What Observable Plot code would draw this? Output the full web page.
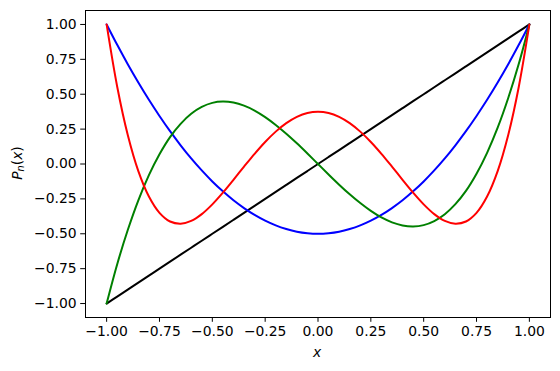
<!DOCTYPE html>
<html>
<head>
<meta charset="utf-8">
<script src="https://cdn.jsdelivr.net/npm/d3@7"></script>
<script src="https://cdn.jsdelivr.net/npm/@observablehq/plot@0.6"></script>
<style>
  html, body { margin: 0; padding: 0; background: #fff; }
  #chart { width: 560px; height: 371px; }
</style>
</head>
<body>
<div id="chart"></div>
<script>
// x sample positions
const xs = [-1.0, -0.95, -0.9, -0.85, -0.8, -0.75, -0.7, -0.65, -0.6, -0.55, -0.5,
            -0.45, -0.4, -0.35, -0.3, -0.25, -0.2, -0.15, -0.1, -0.05, 0.0,
             0.05, 0.1, 0.15, 0.2, 0.25, 0.3, 0.35, 0.4, 0.45, 0.5,
             0.55, 0.6, 0.65, 0.7, 0.75, 0.8, 0.85, 0.9, 0.95, 1.0];
// series values
const p1 = [-1.0, -0.95, -0.9, -0.85, -0.8, -0.75, -0.7, -0.65, -0.6, -0.55, -0.5,
            -0.45, -0.4, -0.35, -0.3, -0.25, -0.2, -0.15, -0.1, -0.05, 0.0,
             0.05, 0.1, 0.15, 0.2, 0.25, 0.3, 0.35, 0.4, 0.45, 0.5,
             0.55, 0.6, 0.65, 0.7, 0.75, 0.8, 0.85, 0.9, 0.95, 1.0];
const p2 = [1.0, 0.854, 0.715, 0.584, 0.46, 0.344, 0.235, 0.134, 0.04, -0.046, -0.125,
            -0.196, -0.26, -0.316, -0.365, -0.406, -0.44, -0.466, -0.485, -0.496, -0.5,
            -0.496, -0.485, -0.466, -0.44, -0.406, -0.365, -0.316, -0.26, -0.196, -0.125,
            -0.046, 0.04, 0.134, 0.235, 0.344, 0.46, 0.584, 0.715, 0.854, 1.0];
const p3 = [-1.0, -0.718, -0.473, -0.26, -0.08, 0.07, 0.193, 0.288, 0.36, 0.409, 0.438,
            0.447, 0.44, 0.418, 0.383, 0.336, 0.28, 0.217, 0.148, 0.075, 0.0,
            -0.075, -0.148, -0.217, -0.28, -0.336, -0.383, -0.418, -0.44, -0.447, -0.438,
            -0.409, -0.36, -0.288, -0.193, -0.07, 0.08, 0.26, 0.473, 0.718, 1.0];
const p4 = [1.0, 0.554, 0.208, -0.051, -0.233, -0.35, -0.412, -0.428, -0.408, -0.359, -0.289,
            -0.205, -0.113, -0.019, 0.073, 0.158, 0.232, 0.293, 0.338, 0.366, 0.375,
            0.366, 0.338, 0.293, 0.232, 0.158, 0.073, -0.019, -0.113, -0.205, -0.289,
            -0.359, -0.408, -0.428, -0.412, -0.35, -0.233, -0.051, 0.208, 0.554, 1.0];
const seriesNames = ["P1", "P2", "P3", "P4"];
const seriesColors = ["black", "blue", "green", "red"];
const tickValues = [-1.0, -0.75, -0.5, -0.25, 0.0, 0.25, 0.5, 0.75, 1.0];

const allSeries = [p1, p2, p3, p4];
const fmt = d3.format(".2f");

const lineMarks = allSeries.map((vals, i) =>
  Plot.line(xs.map((x, j) => ({x, y: vals[j], s: seriesNames[i]})), {
    x: "x", y: "y", stroke: seriesColors[i], strokeWidth: 2, curve: "catmull-rom"
  })
);

const chart = Plot.plot({
  width: 560,
  height: 371,
  marginLeft: 85,
  marginRight: 10,
  marginTop: 10,
  marginBottom: 54,
  style: { background: "white", overflow: "visible" },
  x: { domain: [-1.1, 1.1] },
  y: { domain: [-1.1, 1.1] },
  marks: [
    ...lineMarks,
    Plot.frame({ stroke: "black", strokeWidth: 1 }),
    Plot.axisX({ ticks: tickValues, tickFormat: fmt, tickSize: 4.8, tickPadding: 4, label: null }),
    Plot.axisY({ ticks: tickValues, tickFormat: fmt, tickSize: 4.8, tickPadding: 4, label: null })
  ]
});
document.getElementById("chart").appendChild(chart);

const svg = d3.select(chart);
svg.selectAll("text")
  .style("font-family", "'DejaVu Sans'")
  .style("font-size", "13.9px")
  .style("fill", "black");

// axis labels
const lbl = (sel) => sel.style("font-family", "'DejaVu Sans'").style("font-size", "13.9px").style("fill", "black");
lbl(svg.append("text")
  .attr("x", 317).attr("y", 353)
  .attr("text-anchor", "middle").attr("dominant-baseline", "middle")
  .attr("font-style", "italic").text("x"));
const yl = lbl(svg.append("text")
  .attr("transform", "translate(18,163) rotate(-90)")
  .attr("text-anchor", "middle").attr("dominant-baseline", "middle"));
yl.append("tspan").attr("font-style", "italic").text("P");
yl.append("tspan").attr("font-style", "italic").style("font-size", "9.7px").attr("dy", "3").text("n");
yl.append("tspan").attr("dy", "-3").text("(");
yl.append("tspan").attr("font-style", "italic").text("x");
yl.append("tspan").text(")");
</script>
</body>
</html>
